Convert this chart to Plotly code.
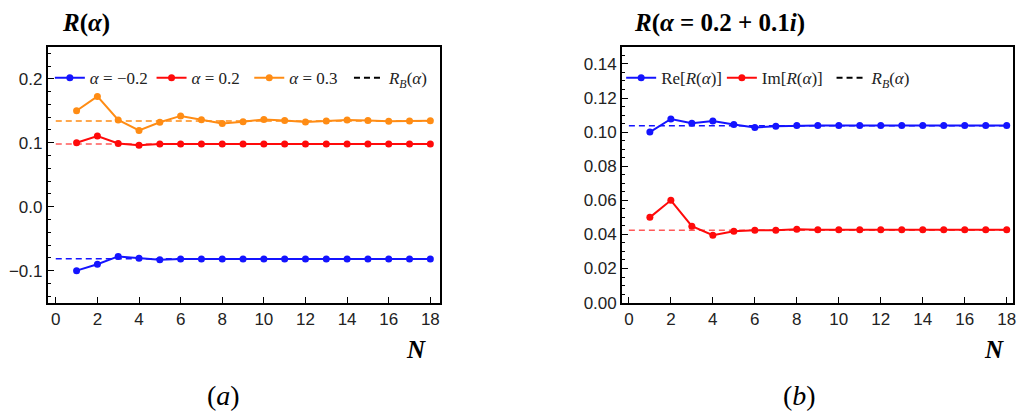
import plotly.graph_objects as go

# Truncation order N
N = list(range(1, 19))

# Panel (a): R(alpha) for real alpha
r_m02 = [-0.100, -0.0900, -0.0778, -0.0808, -0.0828, -0.0818, -0.0818, -0.0818, -0.0818,
         -0.0818, -0.0818, -0.0818, -0.0818, -0.0818, -0.0818, -0.0818, -0.0818, -0.0818]
r_p02 = [0.100, 0.1105, 0.0990, 0.0960, 0.0980, 0.0982, 0.0982, 0.0982, 0.0982,
         0.0982, 0.0982, 0.0982, 0.0982, 0.0982, 0.0982, 0.0982, 0.0982, 0.0982]
r_p03 = [0.150, 0.1725, 0.1356, 0.1193, 0.1320, 0.1420, 0.1360, 0.1300, 0.1330,
         0.1365, 0.1350, 0.1326, 0.1340, 0.1356, 0.1350, 0.1335, 0.1340, 0.1345]
rb_a = {"m02": -0.0815, "p02": 0.0980, "p03": 0.1340}

# Panel (b): R(alpha = 0.2 + 0.1i)
re_b = [0.1000, 0.1077, 0.1052, 0.1065, 0.1044, 0.1027, 0.1034, 0.1038, 0.1038,
        0.1038, 0.1038, 0.1038, 0.1038, 0.1038, 0.1038, 0.1038, 0.1038, 0.1038]
im_b = [0.0500, 0.0600, 0.0448, 0.0395, 0.0418, 0.0425, 0.0425, 0.0430, 0.0427,
        0.0427, 0.0427, 0.0427, 0.0427, 0.0427, 0.0427, 0.0427, 0.0427, 0.0427]
rb_re, rb_im = 0.1037, 0.0425

x_ticks = list(range(0, 19, 2))
ya_ticks = [-0.1, 0.0, 0.1, 0.2]
yb_ticks = [0.00, 0.02, 0.04, 0.06, 0.08, 0.10, 0.12, 0.14]

BLUE = "rgb(20,20,255)"
RED = "rgb(255,10,10)"
ORANGE = "rgb(255,140,20)"
RED_DASH = "rgba(255,60,60,0.85)"

SERIF = "'Liberation Serif', 'Times New Roman', Times, serif"
SANS = "'Liberation Sans', Arial, Helvetica, sans-serif"

W, H = 1019, 419


def px_x(v):
    return v / W


def px_y(v):
    return 1 - v / H


fig = go.Figure()


def series(x, y, color, name, xa, ya, legend):
    fig.add_trace(go.Scatter(
        x=x, y=y, mode="lines+markers", name=name,
        line=dict(color=color, width=2), marker=dict(color=color, size=7),
        xaxis=xa, yaxis=ya, legend=legend, showlegend=True))


def ref_line(val, color, xa, ya):
    fig.add_trace(go.Scatter(
        x=[0, 18], y=[val, val], mode="lines",
        line=dict(color=color, width=1.5, dash="6px,4px"),
        xaxis=xa, yaxis=ya, showlegend=False, hoverinfo="skip"))


def rb_legend(xa, ya, legend):
    fig.add_trace(go.Scatter(
        x=[None], y=[None], mode="lines",
        name="<i>R</i><sub><i>B</i></sub>(<i>α</i>)",
        line=dict(color="black", width=2, dash="6px,4px"),
        xaxis=xa, yaxis=ya, legend=legend, showlegend=True))


# panel (a)
ref_line(rb_a["p03"], ORANGE, "x", "y")
ref_line(rb_a["p02"], RED_DASH, "x", "y")
ref_line(rb_a["m02"], BLUE, "x", "y")
series(N, r_m02, BLUE, "<i>α</i> = −0.2", "x", "y", "legend")
series(N, r_p02, RED, "<i>α</i> = 0.2", "x", "y", "legend2")
series(N, r_p03, ORANGE, "<i>α</i> = 0.3", "x", "y", "legend3")
rb_legend("x", "y", "legend4")

# panel (b)
ref_line(rb_re, BLUE, "x2", "y2")
ref_line(rb_im, RED_DASH, "x2", "y2")
series(N, re_b, BLUE, "Re[<i>R</i>(<i>α</i>)]", "x2", "y2", "legend5")
series(N, im_b, RED, "Im[<i>R</i>(<i>α</i>)]", "x2", "y2", "legend6")
rb_legend("x2", "y2", "legend7")

axis_common = dict(
    showline=True, linecolor="black", linewidth=2, mirror=True,
    ticks="inside", ticklen=6, tickwidth=1, tickcolor="black",
    showgrid=False, zeroline=False, ticklabeloverflow="allow",
    tickfont=dict(family=SANS, size=17, color="#222"),
)


def legend_at(xpx):
    return dict(orientation="h", x=px_x(xpx), y=px_y(80), xanchor="left", yanchor="middle",
                itemwidth=30, font=dict(family=SERIF, size=17, color="#222"),
                bgcolor="rgba(0,0,0,0)")


fig.update_layout(
    width=W, height=H,
    margin=dict(l=0, r=0, t=0, b=0),
    paper_bgcolor="white", plot_bgcolor="white",
    xaxis=dict(domain=[px_x(48), px_x(441)], range=[-0.38, 18.45],
               tickvals=x_ticks, anchor="y", **axis_common),
    yaxis=dict(domain=[px_y(310), px_y(48)], range=[-0.15, 0.25],
               tickvals=ya_ticks, tickformat=".1f", anchor="x",
               minor=dict(dtick=0.02, ticklen=3, tickcolor="black", ticks="inside"),
               **axis_common),
    xaxis2=dict(domain=[px_x(624), px_x(1016)], range=[-0.32, 18.3],
                tickvals=x_ticks, anchor="y2", **axis_common),
    yaxis2=dict(domain=[px_y(310), px_y(48)], range=[0, 0.15],
                tickvals=yb_ticks, tickformat=".2f", anchor="x2",
                minor=dict(dtick=0.005, ticklen=3, tickcolor="black", ticks="inside"),
                **axis_common),
    legend=legend_at(50),
    legend2=legend_at(152),
    legend3=legend_at(250),
    legend4=legend_at(350),
    legend5=legend_at(623),
    legend6=legend_at(724),
    legend7=legend_at(834),
    showlegend=True,
)

annos = [
    dict(x=px_x(60), y=px_y(24), text="<b><i>R</i>(<i>α</i>)</b>", xanchor="left",
         font=dict(family=SERIF, size=25, color="black")),
    dict(x=px_x(634), y=px_y(24), text="<b><i>R</i>(<i>α</i> = 0.2 + 0.1<i>i</i>)</b>",
         xanchor="left", font=dict(family=SERIF, size=25, color="black")),
    dict(x=px_x(417), y=px_y(358), text="<b><i>N</i></b>", xanchor="center",
         font=dict(family=SERIF, size=25, color="black")),
    dict(x=px_x(997), y=px_y(358), text="<b><i>N</i></b>", xanchor="center",
         font=dict(family=SERIF, size=25, color="black")),
    dict(x=px_x(224), y=px_y(405), text="(<i>a</i>)", xanchor="center",
         font=dict(family=SERIF, size=28, color="black")),
    dict(x=px_x(802), y=px_y(405), text="(<i>b</i>)", xanchor="center",
         font=dict(family=SERIF, size=28, color="black")),
]
for a in annos:
    fig.add_annotation(xref="paper", yref="paper", showarrow=False, yanchor="middle", **a)

fig.write_html("out.html")
